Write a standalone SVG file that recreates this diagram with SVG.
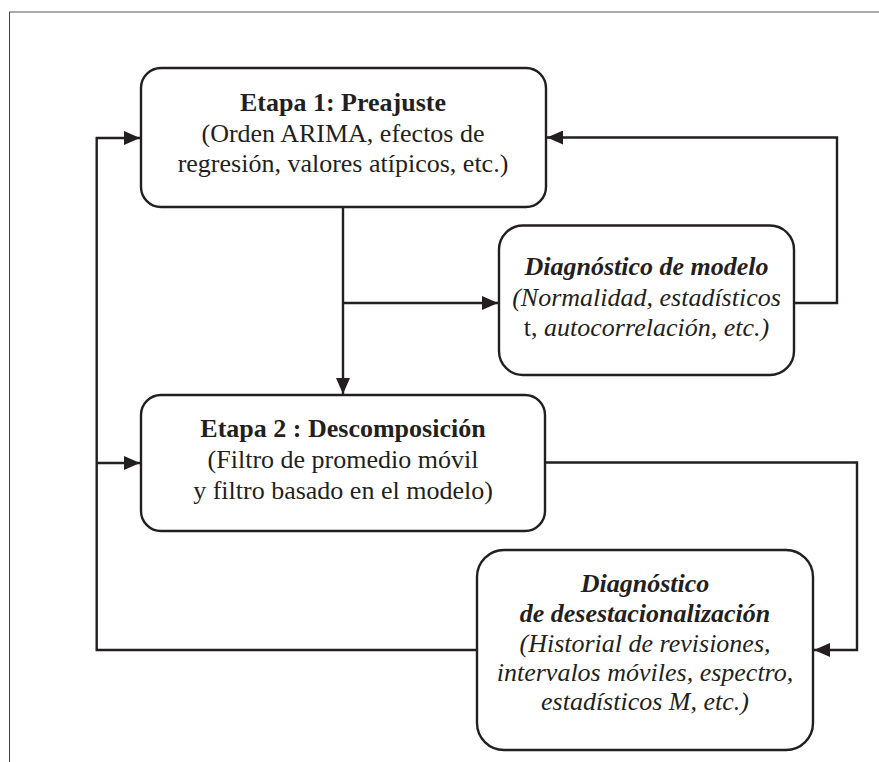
<svg xmlns="http://www.w3.org/2000/svg" width="879" height="762" viewBox="0 0 879 762">
<style>
.box{fill:#fff;stroke:#231f20;stroke-width:2.4}
.ln{fill:none;stroke:#231f20;stroke-width:2.4}
text{font-family:'Liberation Serif','Times New Roman',Times,'DejaVu Serif',serif;font-size:26px;fill:#231f20;text-anchor:middle}
.b{font-weight:bold}
.i{font-style:italic}
.bi{font-weight:bold;font-style:italic}
</style>
<defs>
<marker id="ah" viewBox="0 0 16 14" refX="16" refY="7" markerWidth="16" markerHeight="14" markerUnits="userSpaceOnUse" orient="auto">
<path d="M0,0 L16,7 L0,14 Z" fill="#231f20"/>
</marker>
</defs>
<g id="frame">
<line x1="9" y1="12" x2="879" y2="12" stroke="#8c8c8c" stroke-width="1.6"/>
<line x1="9.5" y1="12" x2="9.5" y2="762" stroke="#444" stroke-width="1"/>
</g>
<g id="connectors">
<path class="ln" d="M343,207 L343,394" marker-end="url(#ah)"/>
<path class="ln" d="M343,303 L498,303" marker-end="url(#ah)"/>
<path class="ln" d="M794,303 L837,303 L837,137.5 L547,137.5" marker-end="url(#ah)"/>
<path class="ln" d="M545,462.5 L857,462.5 L857,650 L814,650" marker-end="url(#ah)"/>
<path class="ln" d="M477,650 L96.7,650 L96.7,138 L140,138" marker-end="url(#ah)"/>
<path class="ln" d="M96.7,463 L140,463" marker-end="url(#ah)"/>
</g>
<g id="etapa1">
<rect class="box" x="141" y="68" width="405" height="139" rx="20"/>
<text x="343" y="111" class="b">Etapa 1: Preajuste</text>
<text x="343" y="142">(Orden ARIMA, efectos de</text>
<text x="343" y="172">regresión, valores atípicos, etc.)</text>
</g>
<g id="diag-modelo">
<rect class="box" x="499" y="225.5" width="295" height="149.5" rx="24"/>
<text x="646.5" y="275" class="bi">Diagnóstico de modelo</text>
<text x="646.5" y="306" class="i">(Normalidad, estadísticos</text>
<text x="646.5" y="336"><tspan>t, </tspan><tspan class="i">autocorrelación, etc.)</tspan></text>
</g>
<g id="etapa2">
<rect class="box" x="141" y="395" width="404" height="136" rx="20"/>
<text x="343" y="437" class="b">Etapa 2 : Descomposición</text>
<text x="343" y="468">(Filtro de promedio móvil</text>
<text x="343" y="499">y filtro basado en el modelo)</text>
</g>
<g id="diag-desest">
<rect class="box" x="477" y="550" width="336" height="200" rx="27"/>
<text x="645" y="592" class="bi">Diagnóstico</text>
<text x="645" y="622" class="bi">de desestacionalización</text>
<text x="645" y="652" class="i">(Historial de revisiones,</text>
<text x="645" y="681" class="i">intervalos móviles, espectro,</text>
<text x="645" y="710" class="i">estadísticos M, etc.)</text>
</g>
</svg>
